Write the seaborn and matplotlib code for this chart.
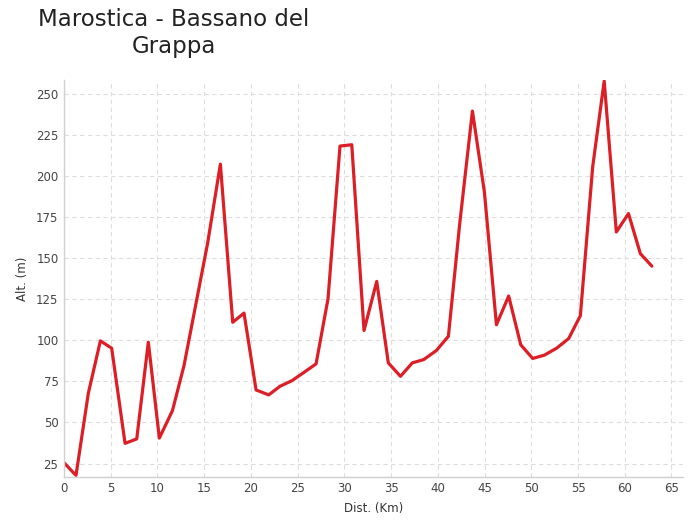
import numpy as np
import pandas as pd
import matplotlib
matplotlib.use('Agg')
import matplotlib.pyplot as plt
import seaborn as sns

# elevation profile
dist_km = [0.0, 1.28, 2.6, 3.89, 5.1, 6.53, 7.78, 9.02, 10.2, 11.6, 12.84,
           15.37, 16.73, 18.05, 19.26, 20.55, 21.9, 23.1, 24.4, 25.7, 26.97,
           28.25, 29.53, 30.79, 32.1, 33.46, 34.7, 36.0, 37.27, 38.49, 39.84,
           41.13, 42.34, 43.7, 44.98, 46.27, 47.58, 48.87, 50.15, 51.4, 52.7,
           54.0, 55.25, 56.57, 57.8, 59.1, 60.4, 61.67, 62.9]
alt_m = [25.5, 17.8, 67.8, 99.7, 95.2, 37.3, 40.0, 98.9, 40.5, 57.2, 84.7,
         159.3, 207.3, 111.0, 116.6, 69.8, 66.8, 72.0, 75.5, 80.6, 85.7,
         125.4, 218.3, 219.1, 106.0, 135.9, 86.3, 78.1, 86.3, 88.3, 93.8,
         102.5, 171.0, 239.6, 190.4, 109.5, 127.0, 97.3, 89.0, 91.0, 95.2,
         101.1, 115.0, 205.7, 257.9, 166.0, 177.2, 152.8, 145.2]
x_ticks = list(range(0, 70, 5))
y_ticks = list(range(25, 275, 25))

df = pd.DataFrame({'dist': dist_km, 'alt': alt_m})

sns.set_theme(style='whitegrid')
plt.rcParams['font.family'] = ['DejaVu Sans']

fig = plt.figure(figsize=(6.9, 5.22), dpi=100)
ax = fig.add_axes([0.0928, 0.0868, 0.8966, 0.7599])

sns.lineplot(data=df, x='dist', y='alt', ax=ax, color='#dc1f26', linewidth=2.3,
             sort=False)

ax.set_xlim(0, 66.2)
ax.set_ylim(17, 258.5)
ax.set_xticks(x_ticks)
ax.set_yticks(y_ticks)
ax.grid(True, linestyle=(0, (4, 3)), color='#dddddd', linewidth=0.8)
for s in ['top', 'right']:
    ax.spines[s].set_visible(False)
for s in ['left', 'bottom']:
    ax.spines[s].set_color('#d0d0d0')
    ax.spines[s].set_linewidth(1.0)
ax.tick_params(axis='both', labelsize=8.5, colors='#444444', length=0, pad=4)
ax.set_xlabel('Dist. (Km)', fontsize=8.5, color='#333333', labelpad=5)
ax.set_ylabel('Alt. (m)', fontsize=8.5, color='#333333', labelpad=5)

fig.text(0.252, 0.985, 'Marostica - Bassano del\nGrappa', ha='center', va='top',
         fontsize=16.5, color='#222222', multialignment='center',
         linespacing=1.25)

fig.savefig('out.png', dpi=100)
